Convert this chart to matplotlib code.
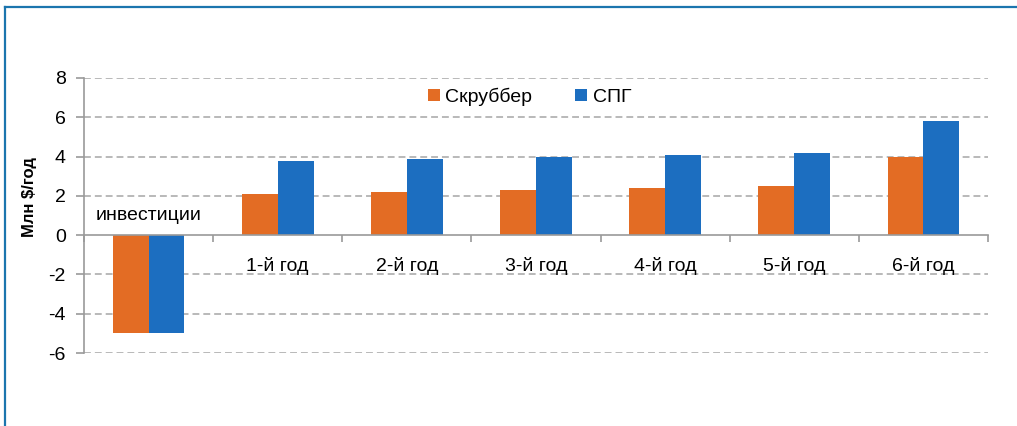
import matplotlib
matplotlib.use("Agg")
import matplotlib.pyplot as plt
from matplotlib.lines import Line2D
import numpy as np

categories = ["инвестиции", "1-й год", "2-й год", "3-й год", "4-й год", "5-й год", "6-й год"]
scrubber = [-5.0, 2.1, 2.2, 2.3, 2.4, 2.5, 4.0]
lng = [-5.0, 3.8, 3.9, 4.0, 4.1, 4.2, 5.8]
series_names = ["Скруббер", "СПГ"]
yticks = [-6, -4, -2, 0, 2, 4, 6, 8]
ylabel = "Млн $/год"

plt.rcParams['font.family'] = ['Liberation Sans', 'DejaVu Sans']

ORANGE = "#E36C24"
BLUE = "#1C6EC0"
GRID = "#A6A6A6"
AXIS = "#9A9A9A"

fig = plt.figure(figsize=(10.17, 4.26), dpi=100)
ax = fig.add_axes([84/1017, 1-353/426, (988-84)/1017, (353-78)/426])

x = np.arange(len(categories))
w = 0.278
ax.bar(x - w/2, scrubber, w, color=ORANGE, label=series_names[0], zorder=3)
ax.bar(x + w/2, lng, w, color=BLUE, label=series_names[1], zorder=3)

ax.set_xlim(-0.5, len(categories) - 0.5)
ax.set_ylim(min(yticks), max(yticks))
ax.set_yticks(yticks)
ax.set_yticklabels([str(t) for t in yticks], fontsize=14)

# gridlines (dashed, except zero)
for t in yticks:
    if t != 0:
        ax.axhline(t, color=GRID, linewidth=1.1, linestyle=(0, (4.5, 2.6)), zorder=1)

for s in ["top", "right"]:
    ax.spines[s].set_visible(False)
ax.spines["left"].set_color(AXIS)
ax.spines["left"].set_linewidth(1.2)
ax.spines["bottom"].set_position(("data", 0))
ax.spines["bottom"].set_color(AXIS)
ax.spines["bottom"].set_linewidth(1.2)
ax.spines["bottom"].set_zorder(4)

ax.set_xticks(np.arange(len(categories) + 1) - 0.5)
ax.set_xticklabels([])
ax.tick_params(axis="x", direction="out", length=5, color=AXIS, width=1.2)
ax.tick_params(axis="y", direction="out", length=6, color=AXIS, width=1.2, pad=7)

# category labels next to the zero line, on the side opposite the bars
for i, cat in enumerate(categories):
    neg = min(scrubber[i], lng[i]) < 0
    ax.annotate(cat, xy=(x[i], 0), xytext=(0, 14 if neg else -22),
                textcoords="offset points", ha="center", va="center", fontsize=14)

ax.set_ylabel(ylabel, fontsize=12, fontweight="bold",
              family=['Liberation Sans Narrow', 'Liberation Sans', 'DejaVu Sans'])
ax.yaxis.set_label_coords(-0.052, 0.567)

leg = ax.legend(loc="center", bbox_to_anchor=(0.493, 0.931), ncol=2, frameon=False,
                fontsize=14, handlelength=0.6, handleheight=0.6, handletextpad=0.3,
                columnspacing=2.2)

# blue frame (left and top)
fig.add_artist(Line2D([5/1017, 5/1017], [0, 1-7/426], color="#1B75AE", linewidth=1.6))
fig.add_artist(Line2D([5/1017, 1], [1-7/426, 1-7/426], color="#1B75AE", linewidth=1.6))

fig.savefig("out.png", dpi=100)
